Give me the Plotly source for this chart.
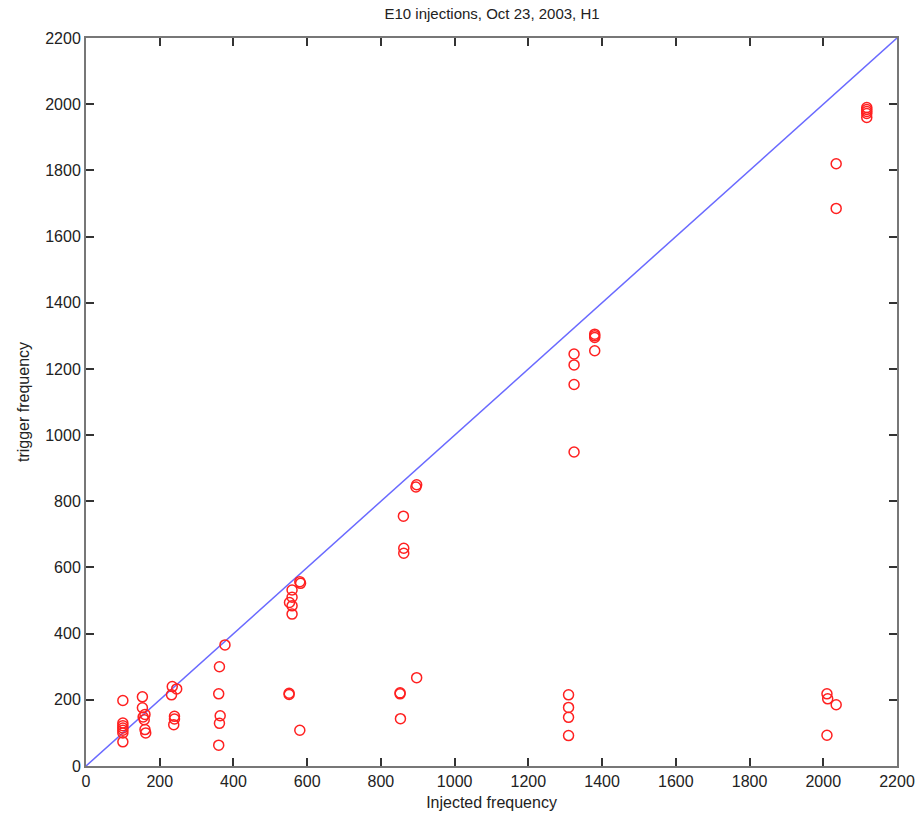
import plotly.graph_objects as go

# Injected frequency (x) and trigger frequency (y) for each trigger
inj_freq = [
    100, 100, 100, 100, 100, 100, 100,
    153, 153, 160, 155, 158, 160, 162,
    234, 246, 232, 240, 240, 238,
    377, 362, 360, 364, 362, 360,
    580, 582, 559, 559, 552, 559, 559, 551, 551, 580,
    852, 852, 853, 897, 897, 895, 861, 862, 862,
    1324, 1324, 1324, 1324, 1380, 1380, 1380, 1380, 1309, 1309, 1309, 1309,
    2010, 2012, 2035, 2010, 2035, 2035,
    2118, 2118, 2118, 2118, 2118,
]
trig_freq = [
    198, 130, 122, 115, 108, 100, 73,
    209, 176, 156, 148, 140, 110, 100,
    240, 233, 215, 150, 142, 125,
    366, 300, 218, 152, 129, 63,
    557, 552, 532, 510, 494, 484, 459, 220, 216, 108,
    221, 218, 143, 267, 850, 843, 755, 658, 643,
    1245, 1212, 1153, 949, 1305, 1300, 1295, 1255, 215, 177, 147, 92,
    218, 203, 185, 93, 1820, 1685,
    1990, 1984, 1978, 1972, 1960,
]
diag = [0, 2200]
tick_vals = list(range(0, 2201, 200))

fig = go.Figure()
fig.add_trace(go.Scatter(
    x=diag, y=diag, mode="lines",
    line=dict(color="#6a6aff", width=1.5),
    showlegend=False, hoverinfo="skip",
))
fig.add_trace(go.Scatter(
    x=inj_freq, y=trig_freq, mode="markers",
    marker=dict(symbol="circle-open", size=10, color="#ff2020", line=dict(width=1.5)),
    showlegend=False,
))

font_family = "Liberation Sans, Arial, sans-serif"
axis_common = dict(
    range=[0, 2200], tickvals=tick_vals, ticktext=[str(v) for v in tick_vals],
    ticks="inside", ticklen=8, tickwidth=1.5, tickcolor="#333",
    showline=True, linecolor="#777", linewidth=2, mirror="ticks",
    showgrid=False, zeroline=False, automargin=False,
    tickfont=dict(family=font_family, size=16, color="#222"),
    title_font=dict(family=font_family, size=16, color="#222"),
    fixedrange=True,
)

fig.update_layout(
    width=918, height=813,
    margin=dict(l=86, r=21, t=38, b=47),
    paper_bgcolor="white", plot_bgcolor="white",
    title=dict(text="E10 injections, Oct 23, 2003, H1", x=0.536, xanchor="center",
               y=1 - 14 / 813, yanchor="middle", yref="container",
               font=dict(family=font_family, size=15, color="#222")),
    xaxis=dict(axis_common, title=dict(text="Injected frequency", standoff=8)),
    yaxis=dict(axis_common, title=dict(text="trigger frequency", standoff=12)),
)

fig.write_html("out.html")
